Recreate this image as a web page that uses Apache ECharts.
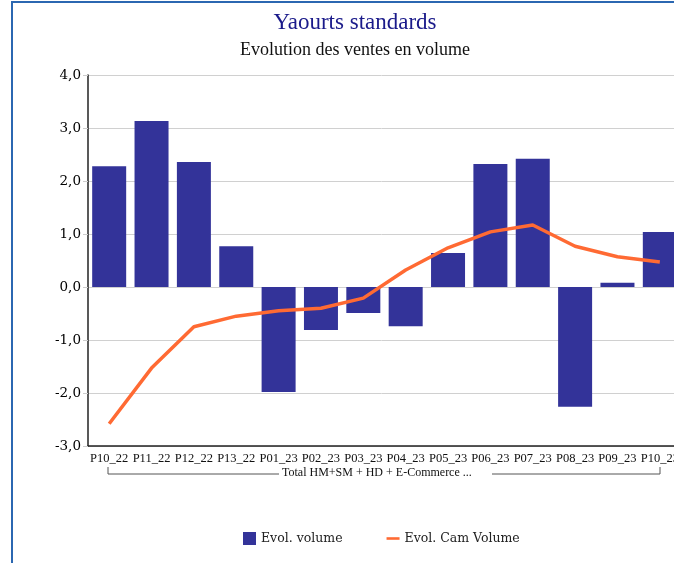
<!DOCTYPE html>
<html>
<head>
<meta charset="utf-8">
<script src="https://cdn.jsdelivr.net/npm/echarts@6/dist/echarts.min.js"></script>
<style>
  body { margin: 0; background: #fff; }
  #frame { position: absolute; left: 11px; top: 1px; width: 700px; height: 600px; border-left: 2px solid #2b67b1; border-top: 2px solid #2b67b1; }
  #chart { position: absolute; left: 0; top: 0; width: 674px; height: 563px; }
</style>
</head>
<body>
<div id="frame"></div>
<div id="chart"></div>
<script>
const periods = ['P10_22', 'P11_22', 'P12_22', 'P13_22', 'P01_23', 'P02_23', 'P03_23', 'P04_23', 'P05_23', 'P06_23', 'P07_23', 'P08_23', 'P09_23', 'P10_23']
const evolVolume = [2.28, 3.13, 2.36, 0.77, -1.98, -0.81, -0.49, -0.74, 0.64, 2.32, 2.42, -2.26, 0.08, 1.04]
const evolCamVolume = [-2.58, -1.53, -0.75, -0.55, -0.45, -0.40, -0.21, 0.32, 0.74, 1.04, 1.17, 0.77, 0.57, 0.47]
const groupLabel = 'Total HM+SM + HD + E-Commerce ...'

const chart = echarts.init(document.getElementById('chart'))
const option = {
  animation: false,
  title: [
    {
      text: 'Yaourts standards',
      left: 350,
      top: 6,
      textAlign: 'center',
      textStyle: { fontFamily: 'Liberation Serif', fontSize: 23, fontWeight: 'normal', color: '#1a1a8a' }
    },
    {
      text: 'Evolution des ventes en volume',
      left: 350,
      top: 36,
      textAlign: 'center',
      textStyle: { fontFamily: 'Liberation Serif', fontSize: 18, fontWeight: 'normal', color: '#111' }
    }
  ],
  legend: {
    bottom: 13,
    left: 238,
    itemGap: 44,
    itemWidth: 13,
    itemHeight: 13,
    textStyle: { fontFamily: 'DejaVu Serif', fontSize: 12.5, color: '#222' },
    data: [
      { name: 'Evol. volume', icon: 'rect' },
      { name: 'Evol. Cam Volume', icon: 'path://M0,0 L20,0 L20,4 L0,4 Z', itemStyle: { color: '#ff6a33' } }
    ]
  },
  grid: { left: 88, top: 75, width: 593, height: 371, outerBoundsMode: 'none', containLabel: false },
  xAxis: {
    type: 'category',
    data: periods,
    position: 'bottom',
    axisLine: { onZero: false, lineStyle: { color: '#222', width: 1.5 } },
    axisTick: { show: false },
    axisLabel: { interval: 0, margin: 6, fontFamily: 'Liberation Serif', fontSize: 12.5, color: '#111' }
  },
  yAxis: {
    type: 'value',
    min: -3,
    max: 4,
    interval: 1,
    axisLine: { show: true, lineStyle: { color: '#222', width: 1.5 } },
    axisTick: { show: true, length: 5, lineStyle: { color: '#ccc' } },
    splitLine: { lineStyle: { color: '#d0d0d0' } },
    axisLabel: {
      margin: 7,
      fontFamily: 'DejaVu Serif',
      fontSize: 13.5,
      color: '#000',
      formatter: v => v.toFixed(1).replace('.', ',')
    }
  },
  series: [
    {
      name: 'Evol. volume',
      type: 'bar',
      data: evolVolume,
      barWidth: 34,
      itemStyle: { color: '#333399' }
    },
    {
      name: 'Evol. Cam Volume',
      type: 'line',
      data: evolCamVolume,
      symbol: 'none',
      lineStyle: { color: '#ff6a33', width: 3.5 },
      itemStyle: { color: '#ff6a33' }
    }
  ],
  graphic: [
    { type: 'polyline', shape: { points: [[108, 467], [108, 474], [279, 474]] }, style: { stroke: '#555', lineWidth: 1, fill: null } },
    { type: 'polyline', shape: { points: [[492, 474], [660, 474], [660, 467]] }, style: { stroke: '#555', lineWidth: 1, fill: null } },
    {
      type: 'text',
      left: 282,
      top: 467,
      style: { text: groupLabel, fontFamily: 'Liberation Serif', fontSize: 12, fill: '#111' }
    }
  ]
}
chart.setOption(option)
</script>
</body>
</html>
